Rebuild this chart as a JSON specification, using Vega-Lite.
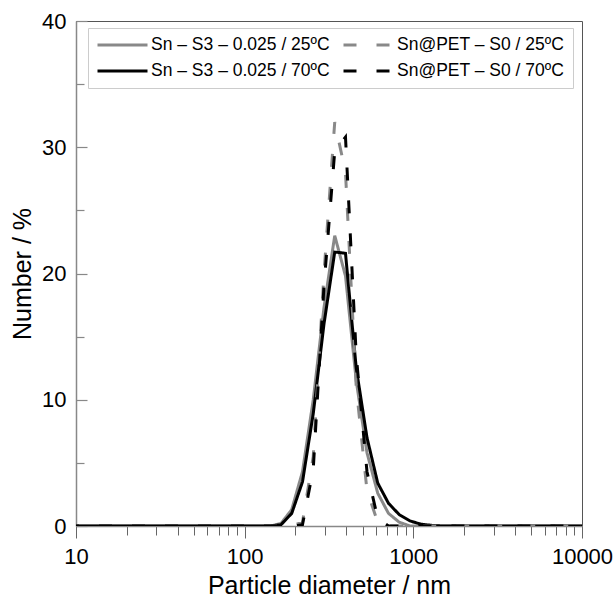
{
  "$schema": "https://vega.github.io/schema/vega-lite/v6.json",
  "width": 506,
  "height": 505,
  "autosize": {"type": "none"},
  "padding": {"left": 76, "top": 21, "right": 31, "bottom": 78},
  "background": "white",
  "config": {
    "view": {"stroke": "#555555", "strokeWidth": 1},
    "font": "Liberation Sans",
    "axis": {"grid": false}
  },
  "data": {
    "values": [
      {"d": 8.721, "s1": 0, "s3": 0, "s2": 0, "s4": 0},
      {"d": 10.1, "s1": 0, "s3": 0, "s2": 0, "s4": 0},
      {"d": 11.7, "s1": 0, "s3": 0, "s2": 0, "s4": 0},
      {"d": 13.54, "s1": 0, "s3": 0, "s2": 0, "s4": 0},
      {"d": 15.69, "s1": 0, "s3": 0, "s2": 0, "s4": 0},
      {"d": 18.17, "s1": 0, "s3": 0, "s2": 0, "s4": 0},
      {"d": 21.04, "s1": 0, "s3": 0, "s2": 0, "s4": 0},
      {"d": 24.36, "s1": 0, "s3": 0, "s2": 0, "s4": 0},
      {"d": 28.21, "s1": 0, "s3": 0, "s2": 0, "s4": 0},
      {"d": 32.67, "s1": 0, "s3": 0, "s2": 0, "s4": 0},
      {"d": 37.84, "s1": 0, "s3": 0, "s2": 0, "s4": 0},
      {"d": 43.82, "s1": 0, "s3": 0, "s2": 0, "s4": 0},
      {"d": 50.75, "s1": 0, "s3": 0, "s2": 0, "s4": 0},
      {"d": 58.77, "s1": 0, "s3": 0, "s2": 0, "s4": 0},
      {"d": 68.06, "s1": 0, "s3": 0, "s2": 0, "s4": 0},
      {"d": 78.82, "s1": 0, "s3": 0, "s2": 0, "s4": 0},
      {"d": 91.28, "s1": 0, "s3": 0, "s2": 0, "s4": 0},
      {"d": 105.7, "s1": 0, "s3": 0, "s2": 0, "s4": 0},
      {"d": 122.4, "s1": 0, "s3": 0, "s2": 0, "s4": 0},
      {"d": 141.8, "s1": 0, "s3": 0, "s2": 0, "s4": 0},
      {"d": 164.2, "s1": 0.2, "s3": 0.1, "s2": 0, "s4": 0},
      {"d": 190.1, "s1": 1.3, "s3": 1.0, "s2": 0, "s4": 0},
      {"d": 220.2, "s1": 4.3, "s3": 3.5, "s2": 0.3, "s4": 0.1},
      {"d": 255.0, "s1": 10.0, "s3": 8.9, "s2": 5.5, "s4": 4.5},
      {"d": 295.3, "s1": 17.3, "s3": 16.0, "s2": 20.0, "s4": 19.0},
      {"d": 342.0, "s1": 23.0, "s3": 21.7, "s2": 32.0, "s4": 29.7},
      {"d": 396.1, "s1": 19.8, "s3": 21.6, "s2": 28.0, "s4": 30.8},
      {"d": 458.7, "s1": 11.5, "s3": 12.5, "s2": 11.0, "s4": 13.5},
      {"d": 531.2, "s1": 5.8, "s3": 7.0, "s2": 2.8, "s4": 4.3},
      {"d": 615.1, "s1": 2.6, "s3": 3.4, "s2": 0.3, "s4": 0.6},
      {"d": 712.4, "s1": 1.0, "s3": 1.8, "s2": 0, "s4": 0},
      {"d": 825.0, "s1": 0.3, "s3": 0.9, "s2": 0, "s4": 0},
      {"d": 955.4, "s1": 0, "s3": 0.4, "s2": 0, "s4": 0},
      {"d": 1106, "s1": 0, "s3": 0.15, "s2": 0, "s4": 0},
      {"d": 1281, "s1": 0, "s3": 0.05, "s2": 0, "s4": 0},
      {"d": 1484, "s1": 0, "s3": 0, "s2": 0, "s4": 0},
      {"d": 1718, "s1": 0, "s3": 0, "s2": 0, "s4": 0},
      {"d": 1990, "s1": 0, "s3": 0, "s2": 0, "s4": 0},
      {"d": 2305, "s1": 0, "s3": 0, "s2": 0, "s4": 0},
      {"d": 2669, "s1": 0, "s3": 0, "s2": 0, "s4": 0},
      {"d": 3091, "s1": 0, "s3": 0, "s2": 0, "s4": 0},
      {"d": 3580, "s1": 0, "s3": 0, "s2": 0, "s4": 0},
      {"d": 4145, "s1": 0, "s3": 0, "s2": 0, "s4": 0},
      {"d": 4801, "s1": 0, "s3": 0, "s2": 0, "s4": 0},
      {"d": 5560, "s1": 0, "s3": 0, "s2": 0, "s4": 0},
      {"d": 6439, "s1": 0, "s3": 0, "s2": 0, "s4": 0},
      {"d": 7456, "s1": 0, "s3": 0, "s2": 0, "s4": 0},
      {"d": 8635, "s1": 0, "s3": 0, "s2": 0, "s4": 0},
      {"d": 10000, "s1": 0, "s3": 0, "s2": 0, "s4": 0}
    ]
  },
  "transform": [{"fold": ["s1", "s3", "s2", "s4"], "as": ["series", "value"]}],
  "mark": {"type": "line", "strokeWidth": 3, "clip": true, "strokeCap": "butt"},
  "encoding": {
    "x": {
      "field": "d",
      "type": "quantitative",
      "scale": {"type": "log", "domain": [10, 10000], "nice": false},
      "axis": {
        "title": "Particle diameter / nm",
        "values": [10, 20, 30, 40, 50, 60, 70, 80, 90, 100, 200, 300, 400, 500, 600, 700, 800, 900, 1000, 2000, 3000, 4000, 5000, 6000, 7000, 8000, 9000, 10000],
        "format": "d",
        "labelExpr": "indexof([10, 100, 1000, 10000], datum.value) >= 0 ? datum.label : ''",
        "tickSize": {"condition": {"test": "indexof([10, 100, 1000, 10000], datum.value) >= 0", "value": 12}, "value": 9},
        "labelPadding": 8,
        "labelFlush": false,
        "labelOverlap": false,
        "labelFontSize": 22,
        "labelFont": "Liberation Sans",
        "labelColor": "#000000",
        "titleFontSize": 25,
        "titleFont": "Liberation Sans",
        "titleFontWeight": "normal",
        "titleColor": "#000000",
        "titlePadding": 6,
        "domainColor": "#888888",
        "domainWidth": 1.5,
        "tickColor": "#666666",
        "tickWidth": 1
      }
    },
    "y": {
      "field": "value",
      "type": "quantitative",
      "scale": {"domain": [0, 40], "nice": false},
      "axis": {
        "title": "Number / %",
        "values": [0, 5, 10, 15, 20, 25, 30, 35, 40],
        "labelExpr": "datum.value % 10 === 0 ? datum.label : ''",
        "tickSize": {"condition": {"test": "datum.value % 10 === 0", "value": -11}, "value": -8},
        "labelPadding": 21,
        "labelOverlap": false,
        "labelFlush": false,
        "labelFontSize": 22,
        "labelFont": "Liberation Sans",
        "labelColor": "#000000",
        "titleFontSize": 25,
        "titleFont": "Liberation Sans",
        "titleFontWeight": "normal",
        "titleColor": "#000000",
        "titlePadding": 6,
        "domainColor": "#888888",
        "domainWidth": 1.5,
        "tickColor": "#888888",
        "tickWidth": 1.2
      }
    },
    "color": {
      "field": "series",
      "type": "nominal",
      "scale": {"domain": ["s1", "s3", "s2", "s4"], "range": ["#898989", "#000000", "#898989", "#000000"]},
      "legend": {
        "title": null,
        "orient": "none",
        "legendX": 12,
        "legendY": 7,
        "columns": 2,
        "symbolType": "stroke",
        "symbolSize": 2500,
        "symbolStrokeWidth": 3,
        "clipHeight": 18,
        "rowPadding": 8,
        "columnPadding": 12,
        "labelFontSize": 17.5,
        "labelFont": "Liberation Sans",
        "labelColor": "#000000",
        "labelOffset": 2,
        "labelLimit": 300,
        "padding": 8,
        "strokeColor": "#cccccc",
        "fillColor": "white",
        "labelExpr": "datum.value == 's1' ? 'Sn – S3 – 0.025 / 25ºC' : datum.value == 's2' ? 'Sn@PET – S0 / 25ºC' : datum.value == 's3' ? 'Sn – S3 – 0.025 / 70ºC' : 'Sn@PET – S0 / 70ºC'"
      }
    },
    "strokeDash": {
      "field": "series",
      "type": "nominal",
      "scale": {"domain": ["s1", "s3", "s2", "s4"], "range": [[1, 0], [1, 0], [13, 20], [13, 20]]},
      "legend": {
        "title": null,
        "orient": "none",
        "legendX": 12,
        "legendY": 7,
        "columns": 2,
        "symbolType": "stroke",
        "symbolSize": 2500,
        "symbolStrokeWidth": 3,
        "clipHeight": 18,
        "rowPadding": 8,
        "columnPadding": 12,
        "labelFontSize": 17.5,
        "labelFont": "Liberation Sans",
        "labelColor": "#000000",
        "labelOffset": 2,
        "labelLimit": 300,
        "padding": 8,
        "strokeColor": "#cccccc",
        "fillColor": "white",
        "labelExpr": "datum.value == 's1' ? 'Sn – S3 – 0.025 / 25ºC' : datum.value == 's2' ? 'Sn@PET – S0 / 25ºC' : datum.value == 's3' ? 'Sn – S3 – 0.025 / 70ºC' : 'Sn@PET – S0 / 70ºC'"
      }
    }
  }
}
